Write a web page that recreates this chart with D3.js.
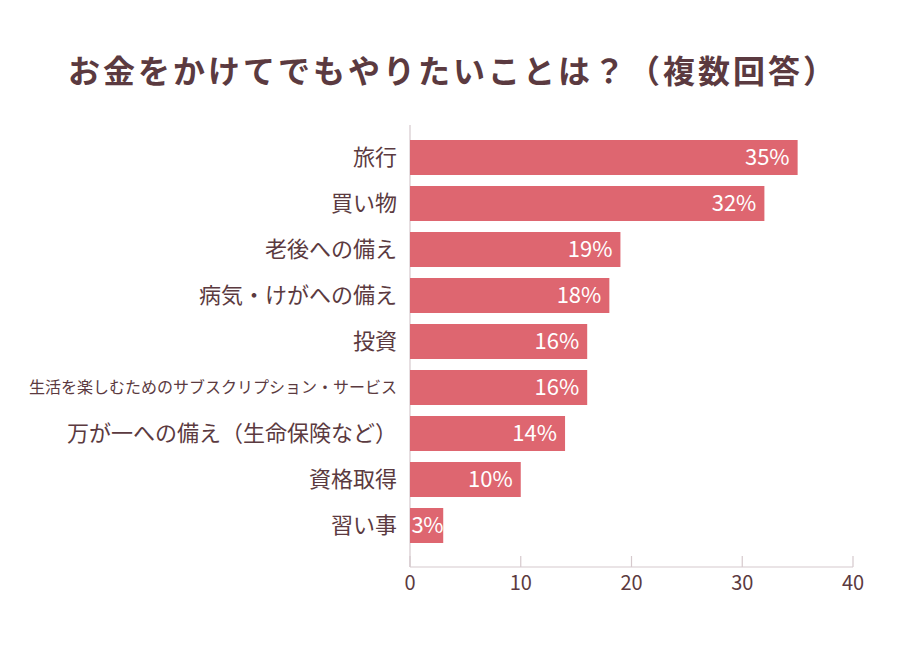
<!DOCTYPE html>
<html><head><meta charset="utf-8">
<script src="https://cdn.jsdelivr.net/npm/d3@7"></script>
<style>body{margin:0;background:#fff;} svg{display:block;font-family:"Noto Sans CJK JP","Noto Sans",sans-serif;}</style>
</head><body>
<svg id="c" width="900" height="650"></svg>
<script>
const title = "お金をかけてでもやりたいことは？（複数回答）";
const categories = ["旅行","買い物","老後への備え","病気・けがへの備え","投資","生活を楽しむためのサブスクリプション・サービス","万が一への備え（生命保険など）","資格取得","習い事"];
const values = [35,32,19,18,16,16,14,10,3];
const xTicks = [0,10,20,30,40];

const svg = d3.select("#c");
const textColor = "#5b3a40";
const barColor = "#de6670";
const axisColor = "#d6c9cd";

svg.append("text").attr("x",453).attr("y",83).attr("text-anchor","middle")
  .attr("font-size",32).attr("font-weight","bold").attr("fill",textColor)
  .attr("letter-spacing","3").text(title);

const x = d3.scaleLinear().domain([0,40]).range([410,853]);
const y = d3.scaleBand().domain(categories).range([129,554]).paddingInner(11/46).paddingOuter(11/46);

svg.append("line").attr("x1",x(0)).attr("x2",x(0)).attr("y1",125).attr("y2",567).attr("stroke",axisColor).attr("stroke-width",1.2);
svg.append("line").attr("x1",x(0)).attr("x2",x(40)).attr("y1",567).attr("y2",567).attr("stroke",axisColor).attr("stroke-width",1.2);
svg.selectAll(".tk").data(xTicks).enter().append("line")
  .attr("x1",d=>x(d)).attr("x2",d=>x(d)).attr("y1",556).attr("y2",567).attr("stroke",axisColor).attr("stroke-width",1.2);
svg.selectAll(".tl").data(xTicks).enter().append("text")
  .attr("x",d=>x(d)).attr("y",590).attr("text-anchor","middle").attr("font-size",20).attr("fill",textColor).text(d=>d);

svg.selectAll(".bar").data(values).enter().append("rect")
  .attr("x",x(0)).attr("y",(d,i)=>y(categories[i])).attr("height",y.bandwidth())
  .attr("width",d=>x(d)-x(0)).attr("fill",barColor);

svg.selectAll(".cl").data(categories).enter().append("text")
  .attr("x",397).attr("y",d=>y(d)+y.bandwidth()/2).attr("dy","0.36em")
  .attr("text-anchor","end").attr("fill",textColor)
  .attr("font-size",d=>d.length>20?16:22).text(d=>d);

svg.selectAll(".vl").data(values).enter().append("text")
  .attr("x",d=>d<5? x(0)+1.5 : x(d)-8)
  .attr("text-anchor",d=>d<5?"start":"end")
  .attr("y",(d,i)=>y(categories[i])+y.bandwidth()/2).attr("dy","0.36em")
  .attr("letter-spacing",d=>d<5?-0.5:0)
  .attr("fill","#fff").attr("font-size",22).text(d=>d+"%");
</script>
</body></html>
